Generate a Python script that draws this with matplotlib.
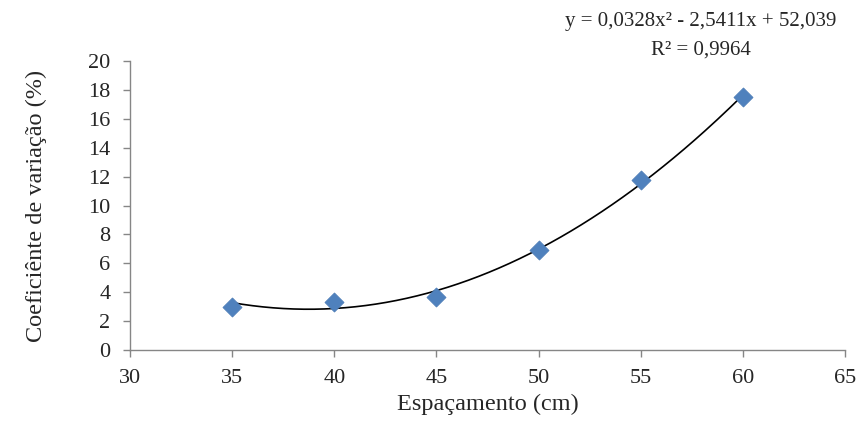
import numpy as np
import matplotlib.pyplot as plt

espacamento = [35, 40, 45, 50, 55, 60]
cv = [3.0, 3.3, 3.65, 6.9, 11.8, 17.5]
# trendline coefficients as printed on the chart
coef = [0.0328, -2.5411, 52.039]
r2 = "0,9964"

plt.rcParams['font.family'] = ['Liberation Serif', 'DejaVu Serif']

fig = plt.figure(figsize=(8.66, 4.30), dpi=100)
ax = fig.add_axes([0.150, 0.186, 0.826, 0.672])

xs = np.linspace(min(espacamento), max(espacamento), 200)
ax.plot(xs, np.polyval(coef, xs), color='black', lw=1.2, zorder=2)
ax.scatter(espacamento, cv, marker='D', s=95, color='#4F81BD',
           edgecolors='#4A7AB5', linewidths=0.5, zorder=3)

ax.set_xlim(30, 65)
ax.set_ylim(0, 20)
ax.set_xticks(range(30, 66, 5))
ax.set_yticks(range(0, 21, 2))

for s in ['top', 'right']:
    ax.spines[s].set_visible(False)
for s in ['left', 'bottom']:
    ax.spines[s].set_color('#868686')
    ax.spines[s].set_linewidth(1.0)
ax.tick_params(direction='out', length=5, width=1.0, color='#868686',
               labelsize=16, labelcolor='#262626')
ax.tick_params(axis='y', pad=9)
ax.tick_params(axis='x', pad=9)

ax.set_xlabel('Espaçamento (cm)', fontsize=17.5, color='#262626', labelpad=4)
ax.set_ylabel('Coeficiênte de variação (%)', fontsize=17.5, color='#262626', labelpad=30)

fig.text(0.809, 0.950, 'y = 0,0328x² - 2,5411x + 52,039', ha='center', va='center',
         fontsize=15, color='#262626')
fig.text(0.809, 0.883, 'R² = ' + r2, ha='center', va='center',
         fontsize=15, color='#262626')

fig.savefig('out.png', dpi=100, facecolor='white')
